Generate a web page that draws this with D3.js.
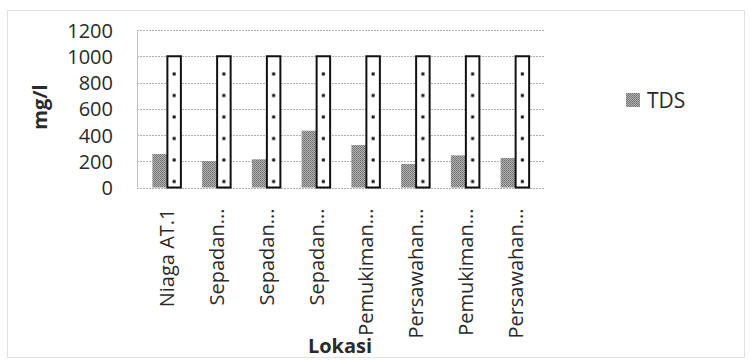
<!DOCTYPE html>
<html>
<head>
<meta charset="utf-8">
<script src="https://cdn.jsdelivr.net/npm/d3@7"></script>
<style>
  html, body { margin: 0; padding: 0; background: #fff; }
  svg text { font-family: "Open Sans", "DejaVu Sans", sans-serif; fill: #2a2a2a; }
</style>
</head>
<body>
<svg id="chart" width="750" height="360"></svg>
<script>
// Sampling locations along the river
const lokasi = ["Niaga AT.1", "Sepadan...", "Sepadan...", "Sepadan...", "Pemukiman...", "Persawahan...", "Pemukiman...", "Persawahan..."];
// Measured total dissolved solids (mg/l)
const tds = [255, 202, 215, 433, 324, 179, 245, 225];
// Quality standard limit (mg/l)
const bakuMutu = [1000, 1000, 1000, 1000, 1000, 1000, 1000, 1000];
// Y axis ticks
const yTicks = [0, 200, 400, 600, 800, 1000, 1200];

const svg = d3.select("#chart");
const defs = svg.append("defs");

const plot = { left: 142, right: 540, top: 30, bottom: 187.5 };

const x = d3.scaleBand().domain(d3.range(lokasi.length)).range([plot.left, plot.right]).padding(0);
const y = d3.scaleLinear().domain([0, 1200]).range([plot.bottom, plot.top]);
const barW = 14.5;

// Fine checker texture for TDS bars
const chk = defs.append("pattern").attr("id", "chk")
  .attr("patternUnits", "userSpaceOnUse").attr("width", 2).attr("height", 2);
chk.append("rect").attr("width", 2).attr("height", 2).attr("fill", "#b4b4b4");
chk.append("rect").attr("width", 1).attr("height", 1).attr("fill", "#6e6e6e");
chk.append("rect").attr("x", 1).attr("y", 1).attr("width", 1).attr("height", 1).attr("fill", "#7a7a7a");

// Sparse dots for the standard-limit bars, one pattern tile per category step
const step = x.step();
const dots = defs.append("pattern").attr("id", "dots")
  .attr("patternUnits", "userSpaceOnUse")
  .attr("x", plot.left).attr("y", plot.bottom)
  .attr("width", step).attr("height", 21.5);
dots.append("rect").attr("width", step).attr("height", 21.5).attr("fill", "#fff");
dots.append("rect").attr("x", step / 2 + barW / 2 - 1.5).attr("y", 14).attr("width", 3).attr("height", 3).attr("fill", "#111");

// Outer chart border
svg.append("rect").attr("x", 7.5).attr("y", 10.5).attr("width", 737).attr("height", 347)
  .attr("fill", "none").attr("stroke", "#c4c4c4").attr("stroke-dasharray", "1,1");

// Gridlines
svg.append("g").selectAll("line").data(yTicks).join("line")
  .attr("x1", plot.left - 5).attr("x2", plot.right + 5)
  .attr("y1", d => Math.round(y(d)) + 0.5).attr("y2", d => Math.round(y(d)) + 0.5)
  .attr("stroke", "#b0b0b0").attr("stroke-dasharray", "2,1");

// Vertical axis line
svg.append("line").attr("x1", plot.left - 4.5).attr("x2", plot.left - 4.5)
  .attr("y1", y(1200)).attr("y2", y(0)).attr("stroke", "#c4c4c4");

// Y axis labels
const yAxis = d3.axisLeft(y).tickValues(yTicks).tickFormat(d3.format("d")).tickSize(0).tickPadding(0);
const gy = svg.append("g").attr("transform", `translate(${plot.left - 29},0)`).call(yAxis);
gy.select(".domain").remove();
gy.selectAll("text").attr("font-size", 20).attr("fill", "#333")
  .style("font-family", "'Open Sans', sans-serif").attr("dy", "0.36em");

// TDS bars
svg.append("g").selectAll("rect").data(tds).join("rect")
  .attr("x", (d, i) => x(i) + step / 2 - barW)
  .attr("y", d => y(d))
  .attr("width", barW)
  .attr("height", d => y(0) - y(d))
  .attr("fill", "url(#chk)");

// Standard-limit bars
svg.append("g").selectAll("rect").data(bakuMutu).join("rect")
  .attr("x", (d, i) => x(i) + step / 2 + 0.5)
  .attr("y", d => y(d))
  .attr("width", barW - 1)
  .attr("height", d => y(0) - y(d))
  .attr("fill", "url(#dots)")
  .attr("stroke", "#111").attr("stroke-width", 2);

// Category labels (rotated)
const xAxis = d3.axisBottom(x).tickFormat(i => lokasi[i]).tickSize(0).tickPadding(0);
const gx = svg.append("g").attr("transform", `translate(0,${plot.bottom})`).call(xAxis);
gx.select(".domain").remove();
gx.selectAll(".tick text")
  .attr("font-size", 20).attr("fill", "#333")
  .style("font-family", "'Open Sans', sans-serif")
  .attr("text-anchor", "end")
  .attr("transform", "rotate(-90)")
  .attr("x", -21).attr("y", 7.5).attr("dy", 0);

// Axis titles
svg.append("text").attr("transform", "translate(47,107) rotate(-90)")
  .attr("text-anchor", "middle").attr("font-size", 20).attr("font-weight", "bold").text("mg/l");
svg.append("text").attr("x", 340).attr("y", 353)
  .attr("text-anchor", "middle").attr("font-size", 20).attr("font-weight", "bold").text("Lokasi");

// Legend
const lg = svg.append("g").attr("transform", "translate(626,93)");
lg.append("rect").attr("width", 14).attr("height", 14).attr("fill", "url(#chk)");
lg.append("text").attr("x", 21).attr("y", 15).attr("font-size", 21).attr("fill", "#333").text("TDS");
</script>
</body>
</html>
